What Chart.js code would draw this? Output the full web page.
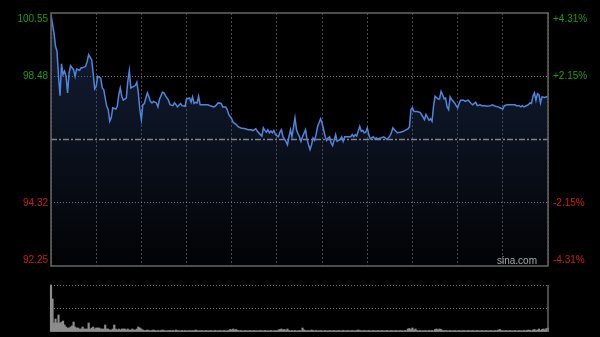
<!DOCTYPE html>
<html>
<head>
<meta charset="utf-8">
<script src="https://cdn.jsdelivr.net/npm/chart.js@4.4.1/dist/chart.umd.min.js"></script>
<style>
html, body { margin: 0; padding: 0; background: #000; }
#wrap { position: relative; width: 600px; height: 337px; overflow: hidden; }
#price { position: absolute; left: 0; top: 0; }
#vol { position: absolute; left: 0; top: 275px; }
</style>
</head>
<body>
<div id="wrap">
  <canvas id="price" width="600" height="275"></canvas>
  <canvas id="vol" width="600" height="62"></canvas>
</div>
<script>
// previous close and axis labels
const prevClose = 96.40;
const priceTicks = [92.25, 94.32, 96.40, 98.48, 100.55];
const pctTicks = ['-4.31%', '-2.15%', '', '+2.15%', '+4.31%'];

// minutes since the open (330 min session) and last price
const minutes = [
  0, 2, 3, 4, 5, 6, 7, 8, 9, 10, 11, 12, 13, 15, 16, 17, 19, 20, 21, 23, 24, 25, 27, 28, 29, 30, 31, 33, 34, 35,
  36, 37, 38, 39, 40, 41, 43, 44, 45, 46, 47, 48, 50, 51, 52, 53, 54, 56, 57, 58, 59, 60, 61, 62, 63, 64, 65, 66, 67, 68,
  70, 71, 72, 74, 75, 76, 78, 79, 81, 82, 84, 86, 87, 89, 90, 92, 93, 94, 95, 96, 97, 98, 99, 101, 104, 108, 109, 111, 113, 114,
  116, 117, 118, 120, 121, 123, 124, 126, 128, 129, 131, 133, 134, 136, 137, 139, 140, 141, 142, 143, 144, 145, 146, 147, 148, 149, 151, 152, 153, 154,
  155, 156, 157, 158, 159, 160, 162, 163, 164, 165, 166, 167, 169, 170, 171, 172, 173, 174, 175, 176, 177, 179, 180, 181, 182, 183, 184, 185, 186, 187,
  189, 190, 191, 192, 193, 194, 195, 196, 197, 199, 200, 201, 202, 203, 205, 206, 207, 208, 209, 210, 211, 212, 214, 215, 216, 217, 219, 221, 222, 223,
  225, 226, 227, 228, 230, 232, 234, 235, 237, 238, 239, 240, 241, 243, 245, 246, 248, 249, 251, 252, 253, 254, 255, 257, 258, 259, 260, 261, 262, 263,
  264, 265, 266, 268, 269, 270, 271, 272, 274, 275, 277, 279, 280, 282, 283, 285, 286, 288, 290, 292, 293, 295, 297, 298, 300, 301, 303, 305, 308, 309,
  311, 312, 313, 314, 315, 317, 318, 319, 320, 321, 322, 323, 324, 325, 326, 328, 330
];
const prices = [
  100.49, 99.89, 99.46, 99.29, 98.47, 97.84, 98.88, 98.53, 98.64, 98.47, 97.93, 98.58, 98.82, 98.69, 98.47, 98.71, 98.67, 98.75, 98.75, 98.80, 98.96, 99.18, 99.02, 98.58, 98.06, 98.14, 98.47, 98.42, 98.09, 98.04,
  97.76, 97.49, 97.38, 97.00, 97.11, 97.44, 97.40, 97.49, 97.87, 98.09, 97.82, 97.69, 97.76, 98.31, 98.66, 98.09, 98.12, 98.17, 98.28, 97.93, 97.38, 97.05, 97.54, 97.58, 97.76, 97.93, 97.80, 97.65, 97.60, 97.65,
  97.60, 97.47, 97.71, 97.95, 97.93, 97.84, 97.69, 97.54, 97.51, 97.61, 97.47, 97.58, 97.51, 97.49, 97.73, 97.76, 97.62, 97.80, 97.58, 97.62, 97.60, 97.82, 97.54, 97.54, 97.54, 97.47, 97.49, 97.60, 97.58, 97.47,
  97.47, 97.38, 97.22, 97.08, 96.96, 96.89, 96.83, 96.78, 96.76, 96.75, 96.72, 96.72, 96.69, 96.75, 96.67, 96.56, 96.51, 96.78, 96.70, 96.64, 96.72, 96.62, 96.68, 96.62, 96.70, 96.56, 96.49, 96.64, 96.72, 96.49,
  96.42, 96.34, 96.23, 96.49, 96.72, 96.49, 97.11, 96.72, 96.59, 96.49, 96.34, 96.49, 96.72, 96.42, 96.23, 96.07, 96.23, 96.45, 96.37, 96.56, 96.83, 97.08, 96.94, 96.72, 96.51, 96.37, 96.45, 96.49, 96.29, 96.20,
  96.56, 96.34, 96.37, 96.40, 96.49, 96.34, 96.49, 96.49, 96.49, 96.49, 96.56, 96.49, 96.56, 96.51, 96.83, 96.67, 96.70, 96.62, 96.64, 96.78, 96.56, 96.42, 96.49, 96.42, 96.45, 96.42, 96.45, 96.49, 96.45, 96.40,
  96.51, 96.62, 96.78, 96.72, 96.62, 96.64, 96.67, 96.70, 96.75, 96.81, 97.38, 97.44, 97.32, 97.32, 97.29, 97.22, 97.05, 97.22, 97.03, 97.08, 97.00, 97.49, 97.82, 97.73, 97.73, 97.98, 97.87, 97.73, 97.76, 97.47,
  97.38, 97.80, 97.71, 97.60, 97.51, 97.44, 97.58, 97.69, 97.69, 97.65, 97.69, 97.58, 97.54, 97.62, 97.51, 97.54, 97.51, 97.51, 97.49, 97.51, 97.54, 97.49, 97.47, 97.44, 97.40, 97.51, 97.54, 97.54, 97.54, 97.51,
  97.51, 97.47, 97.51, 97.47, 97.49, 97.54, 97.60, 97.58, 97.82, 97.93, 97.69, 97.90, 97.87, 97.60, 97.80, 97.78, 97.82
];

// volume per minute, minute 0 .. 330
const volumes = [
  470, 330, 90, 130, 90, 170, 90, 100, 110, 70, 50, 40, 40, 50, 60, 100, 50, 40, 40, 30, 30, 50, 30, 30, 30, 90, 30, 40, 50, 30, 40,
  40, 40, 30, 30, 30, 70, 30, 30, 20, 20, 30, 70, 30, 20, 30, 20, 30, 30, 30, 20, 30, 20, 20, 30, 20, 20, 30, 50, 40, 30,
  20, 15, 15, 20, 15, 12, 15, 20, 15, 12, 15, 12, 15, 20, 15, 12, 12, 15, 15, 12, 15, 12, 20, 15, 12, 12, 15, 12, 15, 12,
  12, 15, 12, 15, 12, 20, 15, 12, 12, 15, 12, 12, 15, 12, 12, 15, 12, 12, 15, 12, 12, 15, 12, 12, 15, 12, 12, 15, 25, 20,
  30, 20, 25, 15, 12, 15, 12, 12, 15, 12, 12, 15, 12, 12, 15, 12, 12, 12, 15, 12, 12, 15, 12, 12, 12, 15, 12, 12, 15, 12,
  20, 25, 30, 20, 25, 15, 30, 15, 12, 15, 12, 15, 12, 12, 15, 12, 40, 20, 15, 12, 15, 12, 20, 15, 12, 15, 12, 12, 15, 12,
  12, 15, 12, 12, 15, 12, 12, 15, 12, 12, 15, 12, 12, 15, 12, 12, 15, 12, 12, 15, 12, 12, 15, 20, 15, 12, 12, 15, 12, 12,
  15, 12, 12, 15, 12, 12, 15, 12, 12, 15, 12, 12, 15, 12, 12, 15, 12, 12, 15, 12, 12, 15, 12, 12, 15, 12, 30, 35, 25, 40,
  20, 30, 15, 12, 15, 12, 12, 15, 12, 12, 15, 12, 15, 12, 25, 30, 20, 30, 25, 15, 12, 15, 12, 12, 15, 12, 12, 15, 12, 12,
  15, 12, 12, 15, 12, 12, 15, 12, 12, 15, 12, 12, 15, 12, 12, 15, 12, 12, 15, 12, 12, 15, 12, 12, 15, 12, 20, 25, 15, 12,
  12, 15, 12, 12, 15, 12, 12, 15, 12, 12, 15, 12, 12, 15, 12, 15, 20, 15, 12, 20, 25, 15, 20, 30, 15, 25, 30, 20, 35, 40
];
const volTicks = [0, 235, 470];

const upColor = '#169c16';
const downColor = '#d01a1a';

// labels, frame, prev-close line, watermark
const priceDeco = {
  id: 'priceDeco',
  beforeDatasetsDraw(chart) {
    const { ctx, chartArea: a, scales: { y } } = chart;
    const py = Math.round(y.getPixelForValue(prevClose)) + 0.5;
    ctx.save();
    ctx.strokeStyle = 'rgba(150,150,150,0.85)';
    ctx.lineWidth = 1.5;
    ctx.setLineDash([6, 2, 2, 2]);
    ctx.beginPath();
    ctx.moveTo(a.left, py);
    ctx.lineTo(a.right, py);
    ctx.stroke();
    ctx.restore();
  },
  afterDraw(chart) {
    const { ctx, chartArea: a, scales: { y } } = chart;
    ctx.save();
    ctx.strokeStyle = '#666';
    ctx.lineWidth = 1.5;
    ctx.strokeRect(a.left, a.top, a.right - a.left, a.bottom - a.top);
    ctx.font = '10px Arial, "Liberation Sans", sans-serif';
    priceTicks.forEach((v, i) => {
      if (v === prevClose) return;
      const py = y.getPixelForValue(v);
      let ty = py;
      ctx.textBaseline = 'middle';
      if (i === priceTicks.length - 1) { ctx.textBaseline = 'top'; ty = py + 1; }
      if (i === 0) { ctx.textBaseline = 'bottom'; ty = py - 1; }
      ctx.fillStyle = v > prevClose ? upColor : downColor;
      ctx.textAlign = 'right';
      ctx.fillText(v.toFixed(2), a.left - 3, ty);
      ctx.textAlign = 'left';
      ctx.fillText(pctTicks[i], a.right + 5, ty);
    });
    ctx.fillStyle = '#a8a8a8';
    ctx.textAlign = 'right';
    ctx.textBaseline = 'alphabetic';
    ctx.fillText('sina.com', a.right - 11, a.bottom - 2);
    ctx.restore();
  }
};

new Chart(document.getElementById('price'), {
  type: 'line',
  data: {
    datasets: [{
      data: minutes.map((m, i) => ({ x: m, y: prices[i] })),
      borderColor: '#4f86dc',
      borderWidth: 1.5,
      pointRadius: 0,
      tension: 0,
      fill: 'start',
      backgroundColor: function (c) {
        const a = c.chart.chartArea;
        if (!a) return 'rgba(40,60,100,0.3)';
        const g = c.chart.ctx.createLinearGradient(0, a.top, 0, a.bottom);
        g.addColorStop(0, 'rgba(45,70,125,0.45)');
        g.addColorStop(1, 'rgba(45,70,125,0.04)');
        return g;
      }
    }]
  },
  options: {
    responsive: false,
    devicePixelRatio: 1,
    animation: false,
    events: [],
    layout: { padding: { left: 51, right: 52, top: 13, bottom: 9 } },
    plugins: { legend: { display: false }, tooltip: { enabled: false }, filler: { drawTime: 'beforeDatasetsDraw' } },
    scales: {
      x: {
        type: 'linear', min: 0, max: 330,
        ticks: { display: false, stepSize: 30 },
        grid: { color: '#4a4a4a', drawTicks: false },
        border: { display: false, dash: [2, 2] }
      },
      y: {
        min: priceTicks[0], max: priceTicks[priceTicks.length - 1],
        afterBuildTicks: s => { s.ticks = priceTicks.map(v => ({ value: v })); },
        ticks: { display: false },
        grid: {
          drawTicks: false,
          color: c => (c.index === 1 || c.index === 3) ? 'rgba(150,150,150,0.8)' : 'rgba(0,0,0,0)'
        },
        border: { display: false, dash: [1, 2] }
      }
    }
  },
  plugins: [priceDeco]
});

const volDeco = {
  id: 'volDeco',
  afterDraw(chart) {
    const { ctx, chartArea: a } = chart;
    ctx.save();
    ctx.strokeStyle = '#666';
    ctx.lineWidth = 1.5;
    ctx.beginPath();
    ctx.moveTo(a.right, a.top); ctx.lineTo(a.right, a.bottom);
    ctx.stroke();
    ctx.restore();
  }
};

new Chart(document.getElementById('vol'), {
  type: 'bar',
  data: {
    datasets: [{
      data: volumes.map((v, i) => ({ x: i, y: v })),
      backgroundColor: '#8c8c8c',
      barThickness: 1.5,
      clip: false
    }]
  },
  options: {
    responsive: false,
    devicePixelRatio: 1,
    animation: false,
    events: [],
    layout: { padding: { left: 51, right: 52, top: 10, bottom: 5 } },
    plugins: { legend: { display: false }, tooltip: { enabled: false } },
    scales: {
      x: {
        type: 'linear', min: 0, max: 330, offset: false,
        ticks: { display: false },
        grid: { display: false, drawTicks: false },
        border: { display: false }
      },
      y: {
        min: 0, max: volTicks[volTicks.length - 1],
        afterBuildTicks: s => { s.ticks = volTicks.map(v => ({ value: v })); },
        ticks: { display: false },
        grid: { drawTicks: false, color: c => c.index > 0 ? 'rgba(140,140,140,0.8)' : 'rgba(0,0,0,0)' },
        border: { display: false, dash: [1, 2] }
      }
    }
  },
  plugins: [volDeco]
});
</script>
</body>
</html>
